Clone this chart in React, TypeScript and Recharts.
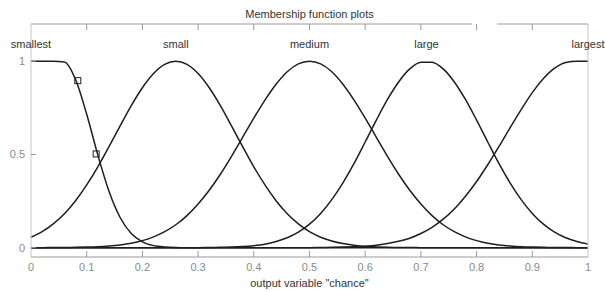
import React from 'react';
import { ComposedChart, Line, Scatter, XAxis, YAxis, ReferenceLine, ReferenceDot, Label } from 'recharts';

// sample positions on the output variable "chance"
const xs = [
  0, 0.02, 0.04, 0.06, 0.08, 0.1, 0.12, 0.14, 0.16, 0.18,
  0.2, 0.22, 0.24, 0.26, 0.28, 0.3, 0.32, 0.34, 0.36, 0.38,
  0.4, 0.42, 0.44, 0.46, 0.48, 0.5, 0.52, 0.54, 0.56, 0.58,
  0.6, 0.62, 0.64, 0.66, 0.68, 0.7, 0.72, 0.74, 0.76, 0.78,
  0.8, 0.82, 0.84, 0.86, 0.88, 0.9, 0.92, 0.94, 0.96, 0.98, 1,
];

// membership degrees
const smallest = [
  1, 1, 1, 0.996, 0.902, 0.716, 0.497, 0.303, 0.162, 0.076,
  0.031, 0.011, 0.004, 0.001, 0, 0, 0, 0, 0, 0,
  0, 0, 0, 0, 0, 0, 0, 0, 0, 0,
  0, 0, 0, 0, 0, 0, 0, 0, 0, 0,
  0, 0, 0, 0, 0, 0, 0, 0, 0, 0, 0,
];
const small = [
  0.056, 0.086, 0.128, 0.182, 0.252, 0.337, 0.434, 0.542, 0.653, 0.762,
  0.858, 0.934, 0.983, 1, 0.983, 0.934, 0.858, 0.762, 0.653, 0.542,
  0.434, 0.337, 0.252, 0.182, 0.128, 0.086, 0.056, 0.036, 0.022, 0.013,
  0.007, 0.004, 0.002, 0.001, 0.001, 0, 0, 0, 0, 0,
  0, 0, 0, 0, 0, 0, 0, 0, 0, 0, 0,
];
const medium = [
  0, 0, 0.001, 0.001, 0.002, 0.003, 0.005, 0.009, 0.015, 0.024,
  0.038, 0.058, 0.086, 0.123, 0.172, 0.234, 0.308, 0.394, 0.49, 0.592,
  0.695, 0.792, 0.877, 0.944, 0.986, 1, 0.986, 0.944, 0.877, 0.792,
  0.695, 0.592, 0.49, 0.394, 0.308, 0.234, 0.172, 0.123, 0.086, 0.058,
  0.038, 0.024, 0.015, 0.009, 0.005, 0.003, 0.002, 0.001, 0.001, 0, 0,
];
const large = [
  0, 0, 0, 0, 0, 0, 0, 0, 0, 0,
  0, 0, 0, 0, 0, 0, 0.001, 0.002, 0.003, 0.006,
  0.011, 0.019, 0.033, 0.053, 0.083, 0.126, 0.184, 0.258, 0.348, 0.452,
  0.567, 0.684, 0.795, 0.889, 0.959, 0.995, 0.995, 0.959, 0.889, 0.795,
  0.684, 0.567, 0.452, 0.348, 0.258, 0.184, 0.126, 0.083, 0.053, 0.033, 0.019,
];
const largest = [
  0, 0, 0, 0, 0, 0, 0, 0, 0, 0,
  0, 0, 0, 0, 0, 0, 0, 0, 0, 0,
  0, 0, 0, 0, 0, 0, 0.001, 0.002, 0.003, 0.005,
  0.008, 0.013, 0.022, 0.034, 0.051, 0.076, 0.109, 0.153, 0.208, 0.276,
  0.355, 0.445, 0.542, 0.643, 0.741, 0.832, 0.907, 0.963, 0.994, 1, 1,
];

const mfNames = ['smallest', 'small', 'medium', 'large', 'largest'];
const mfLabelX = [0, 0.26, 0.5, 0.71, 1];

const xTicks = [0, 0.1, 0.2, 0.3, 0.4, 0.5, 0.6, 0.7, 0.8, 0.9, 1];
const topTicks = [0.1, 0.2, 0.3, 0.4, 0.5, 0.6, 0.7, 0.8, 0.9];
const yTicks = [0, 0.5, 1];

// the two square handles on the "smallest" curve
const markerX = [0.084, 0.117];
const markerY = [0.896, 0.503];

const data = xs.map((x, i) => ({
  x,
  smallest: smallest[i],
  small: small[i],
  medium: medium[i],
  large: large[i],
  largest: largest[i],
}));
const markers = markerX.map((x, i) => ({ x, y: markerY[i] }));

const AXIS = '#9a9a9a';
const AXIS_LIGHT = '#c6c6c6';
const TICK_TEXT = '#8a8a8a';
const INK = '#1e1e1e';

const BottomTick = (props: any) => {
  const { x, y, payload } = props;
  const v = payload.value;
  return (
    <g>
      {v > 0 && v < 1 && <line x1={x} x2={x} y1={y} y2={y - 6} stroke={AXIS} />}
      <text x={x} y={y + 14} textAnchor="middle" fill={TICK_TEXT} fontSize={11}>{v}</text>
    </g>
  );
};

const TopTick = (props: any) => {
  const { x, y } = props;
  return <line x1={x} x2={x} y1={y} y2={y + 6} stroke={AXIS} />;
};

const LeftTick = (props: any) => {
  const { x, y, payload } = props;
  return (
    <g>
      <line x1={x} x2={x + 5} y1={y} y2={y} stroke={AXIS} />
      <text x={x - 6} y={y + 4} textAnchor="end" fill={TICK_TEXT} fontSize={11}>{payload.value}</text>
    </g>
  );
};

const RightTick = (props: any) => {
  const { x, y } = props;
  return <line x1={x} x2={x - 5} y1={y} y2={y} stroke={AXIS_LIGHT} />;
};

const SquareMarker = (props: any) => {
  const { cx, cy } = props;
  return <rect x={cx - 3} y={cy - 3} width={6} height={6} fill="none" stroke={INK} strokeWidth={1} />;
};

const series = ['smallest', 'small', 'medium', 'large', 'largest'];

export default function App() {
  return (
    <div
      style={{
        position: 'absolute',
        left: 0,
        top: 0,
        width: 605,
        height: 292,
        background: '#fff',
        fontFamily: '"Liberation Sans", Arial, sans-serif',
      }}
    >
      <ComposedChart width={605} height={292} data={data} margin={{ top: 0, right: 0, bottom: 0, left: 0 }}>
        <XAxis
          dataKey="x"
          type="number"
          domain={[0, 1]}
          ticks={xTicks}
          interval={0}
          height={35}
          tickSize={0}
          tickMargin={0}
          tick={BottomTick}
          axisLine={{ stroke: AXIS }}
        >
          <Label value={'output variable "chance"'} position="insideBottom" offset={5} fill="#333" fontSize={11} />
        </XAxis>
        <XAxis
          xAxisId="top"
          dataKey="x"
          type="number"
          orientation="top"
          domain={[0, 1]}
          ticks={topTicks}
          interval={0}
          height={24}
          tickSize={0}
          tickMargin={0}
          tick={TopTick}
          axisLine={false}
        >
          <Label value="Membership function plots" position="insideTop" offset={10} fill="#333" fontSize={11} />
        </XAxis>
        <YAxis
          type="number"
          domain={[-0.05, 1.2]}
          ticks={yTicks}
          interval={0}
          width={31}
          tickSize={0}
          tickMargin={0}
          tick={LeftTick}
          axisLine={{ stroke: AXIS_LIGHT }}
        />
        <YAxis
          yAxisId="right"
          orientation="right"
          type="number"
          domain={[-0.05, 1.2]}
          ticks={yTicks}
          interval={0}
          width={17}
          tickSize={0}
          tickMargin={0}
          tick={RightTick}
          axisLine={{ stroke: AXIS_LIGHT }}
        />
        <ReferenceLine segment={[{ x: 0, y: 1.2 }, { x: 0.792, y: 1.2 }]} stroke={AXIS} />
        <ReferenceLine segment={[{ x: 0.837, y: 1.2 }, { x: 1, y: 1.2 }]} stroke={AXIS} />
        {series.map((key) => (
          <Line
            key={key}
            dataKey={key}
            type="monotone"
            stroke={INK}
            strokeWidth={1.5}
            dot={false}
            activeDot={false}
            isAnimationActive={false}
          />
        ))}
        <Scatter data={markers} dataKey="y" shape={SquareMarker} isAnimationActive={false} />
        {mfNames.map((name, i) => (
          <ReferenceDot
            key={name}
            x={mfLabelX[i]}
            y={1.09}
            r={0}
            ifOverflow="visible"
            label={{ value: name, position: 'center', fill: '#333', fontSize: 11 }}
          />
        ))}
      </ComposedChart>
    </div>
  );
}
